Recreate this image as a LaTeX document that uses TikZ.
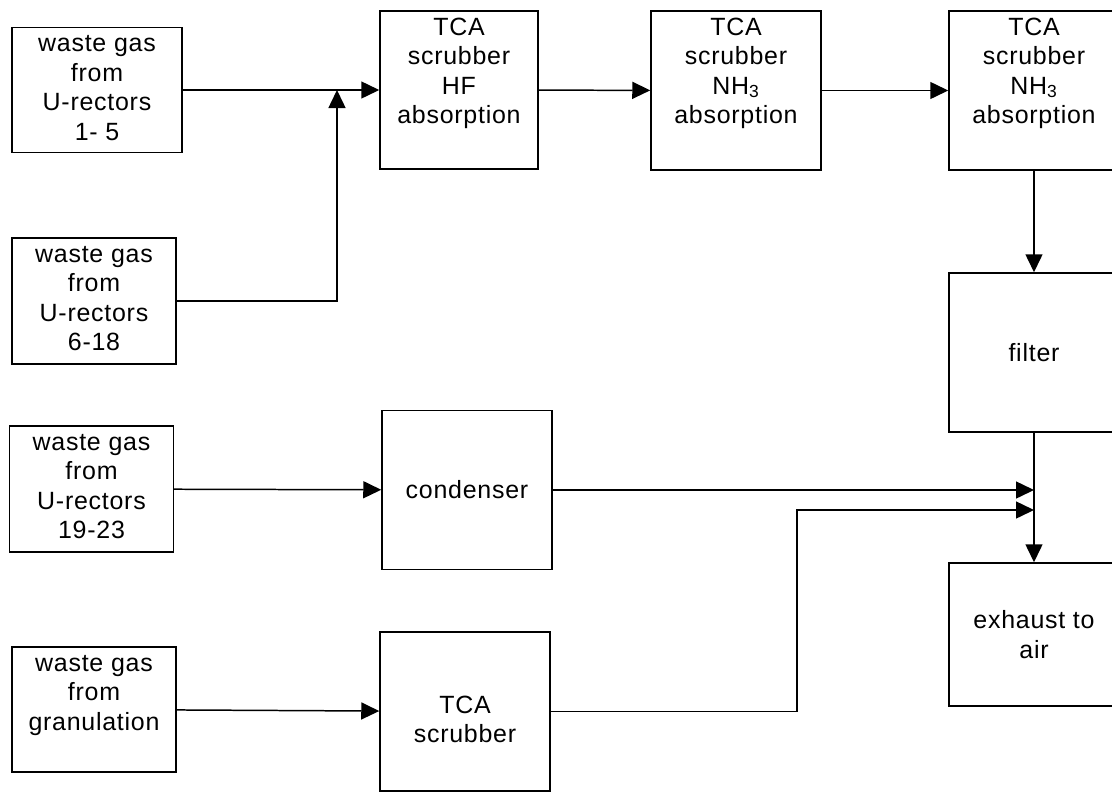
\documentclass[tikz,border=0pt]{standalone}
\usepackage{fontspec}
\setmainfont{Liberation Sans}
\setsansfont{Liberation Sans}
\newfontfamily\boxfamily[LetterSpace=3]{Liberation Sans}
\usepackage{tikz}
\usetikzlibrary{arrows.meta,calc}
\newcommand{\boxfont}{\boxfamily\fontsize{14.2}{16.8}\selectfont}
\newcommand{\toptext}[3][0.48cm]{\parbox[c][#2][t]{3.1cm}{\centering\rule{0pt}{#1}#3}}
\tikzset{
  box/.style={draw, line width=0.85pt, align=center, inner sep=0pt, minimum width=3.4cm, font=\boxfont},
  src/.style={box, minimum width=3.28cm},
  mid/.style={box, minimum height=3.18cm},
  arr/.style={-{Triangle[length=0.36cm, width=0.34cm]}, line width=0.85pt}
}

\begin{document}
\begin{tikzpicture}
  \path[use as bounding box, clip] (0,0) rectangle (22.24,-15.84);
  % waste gas sources
  \node[src, minimum width=3.4cm] (w1) at (1.94,-1.80) {\toptext{2.5cm}{waste gas\\from\\U-rectors\\1- 5}};
  \node[src] (w2) at (1.88,-6.02) {\toptext{2.52cm}{waste gas\\from\\U-rectors\\6-18}};
  \node[src] (w3) at (1.83,-9.78) {\toptext{2.52cm}{waste gas\\from\\U-rectors\\19-23}};
  \node[src] (w4) at (1.88,-14.19) {\toptext{2.5cm}{waste gas\\from\\granulation}};
  % scrubber line
  \node[box, minimum width=3.16cm] (s1) at (9.18,-1.80) {\toptext{3.16cm}{TCA\\scrubber\\HF\\absorption}};
  \node[box] (s2) at (14.72,-1.81) {\toptext{3.18cm}{TCA\\scrubber\\NH\textsubscript{3}\\absorption}};
  \node[box] (s3) at (20.68,-1.81) {\toptext{3.18cm}{TCA\\scrubber\\NH\textsubscript{3}\\absorption}};
  \node[mid] (filt) at (20.68,-7.05) {filter};
  \node[mid, minimum height=2.86cm] (exh) at (20.68,-12.69) {exhaust to\\air};
  \node[mid] (cond) at (9.34,-9.80) {condenser};
  \node[box] (scr) at (9.30,-14.23) {\toptext[1.62cm]{3.18cm}{TCA\\scrubber}};
  \coordinate (jn) at (6.74,-1.80);
  \coordinate (bend) at (15.94,-10.20);
  \draw[arr] (w1) -- (s1);
  \draw[arr] (w2) -| (jn);
  \draw[arr] (s1) -- (s2);
  \draw[arr] (s2) -- (s3);
  \draw[arr] (s3) -- (filt);
  \draw[arr] (filt) -- (exh);
  \draw[arr] (w3) -- (cond);
  \draw[arr] (cond) -- (cond -| exh);
  \draw[arr] (w4) -- (scr);
  \draw[arr] (scr) -| (bend) -- (bend -| exh);
\end{tikzpicture}
\end{document}
